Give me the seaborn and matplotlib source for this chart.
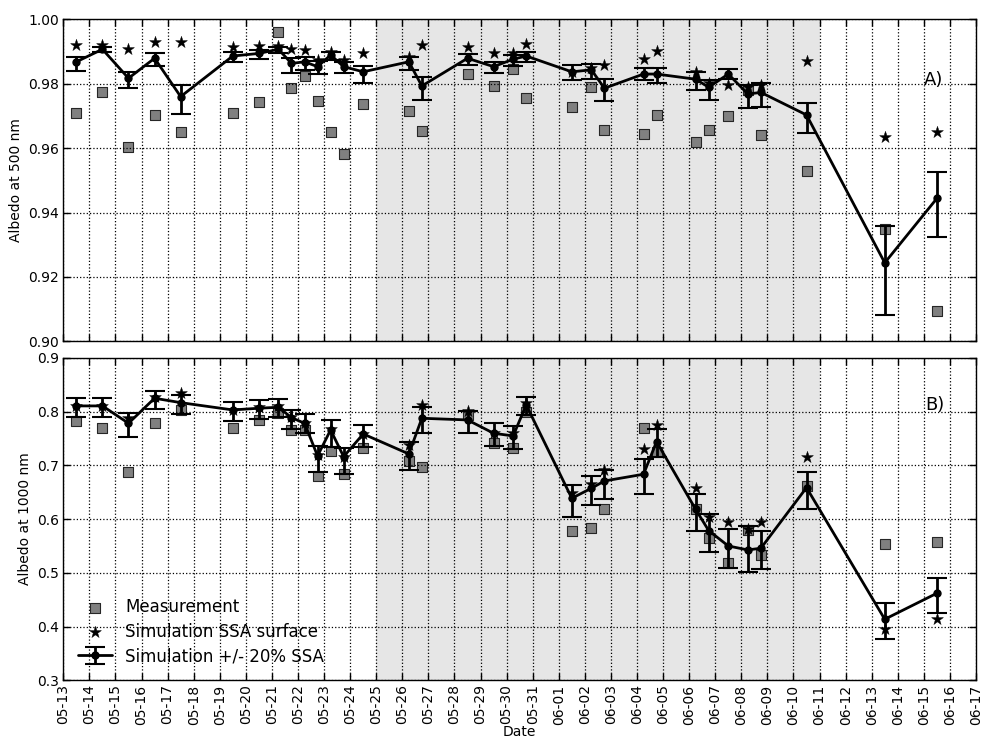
import pandas as pd
import numpy as np
import seaborn as sns
import matplotlib
matplotlib.use('Agg')
import matplotlib.pyplot as plt
import matplotlib.dates as mdates


# observation times (month-day hour)
times = ['05-13 12:00', '05-14 12:00', '05-15 12:00', '05-16 12:00', '05-17 12:00',
         '05-19 12:00', '05-20 12:00', '05-21 06:00', '05-21 18:00', '05-22 06:00',
         '05-22 18:00', '05-23 06:00', '05-23 18:00', '05-24 12:00', '05-26 06:00',
         '05-26 18:00', '05-28 12:00', '05-29 12:00', '05-30 06:00', '05-30 18:00',
         '06-01 12:00', '06-02 06:00', '06-02 18:00', '06-04 06:00', '06-04 18:00',
         '06-06 06:00', '06-06 18:00', '06-07 12:00', '06-08 06:00', '06-08 18:00',
         '06-10 12:00', '06-13 12:00', '06-15 12:00']

# 500 nm
meas500 = [0.9710, 0.9773, 0.9602, 0.9703, 0.9649, 0.9710, 0.9742, 0.9961, 0.9788, 0.9825,
           0.9746, 0.9649, 0.9582, 0.9737, 0.9716, 0.9654, 0.9830, 0.9794, 0.9846, 0.9755,
           0.9727, 0.9789, 0.9656, 0.9643, 0.9703, 0.9618, 0.9656, 0.9701, 0.9780, 0.9641,
           0.9530, 0.9349, 0.9095]
ssa500 = [0.9920, 0.9920, 0.9907, 0.9929, 0.9930, 0.9915, 0.9918, 0.9918, 0.9908, 0.9905,
          0.9874, 0.9898, 0.9874, 0.9896, 0.9884, 0.9920, 0.9915, 0.9894, 0.9894, 0.9922,
          0.9837, 0.9848, 0.9858, 0.9877, 0.9902, 0.9837, 0.9801, 0.9796, 0.9789, 0.9796,
          0.9871, 0.9634, 0.9651]
sim500 = [0.9868, 0.9907, 0.9817, 0.9879, 0.9760, 0.9886, 0.9894, 0.9907, 0.9863, 0.9868,
          0.9853, 0.9889, 0.9853, 0.9837, 0.9868, 0.9793, 0.9879, 0.9853, 0.9876, 0.9886,
          0.9837, 0.9843, 0.9786, 0.9830, 0.9830, 0.9814, 0.9789, 0.9830, 0.9768, 0.9773,
          0.9703, 0.9244, 0.9444]
lo500 = [0.9841, 0.9900, 0.9786, 0.9856, 0.9706, 0.9868, 0.9876, 0.9894, 0.9832, 0.9843,
         0.9830, 0.9874, 0.9832, 0.9803, 0.9843, 0.9749, 0.9858, 0.9832, 0.9855, 0.9866,
         0.9812, 0.9815, 0.9747, 0.9812, 0.9801, 0.9781, 0.9749, 0.9814, 0.9724, 0.9729,
         0.9646, 0.9082, 0.9325]
hi500 = [0.9884, 0.9915, 0.9837, 0.9894, 0.9796, 0.9900, 0.9905, 0.9915, 0.9879, 0.9884,
         0.9871, 0.9900, 0.9868, 0.9856, 0.9884, 0.9822, 0.9892, 0.9866, 0.9889, 0.9900,
         0.9858, 0.9860, 0.9815, 0.9848, 0.9848, 0.9837, 0.9812, 0.9846, 0.9796, 0.9801,
         0.9741, 0.9358, 0.9525]

# 1000 nm
meas1000 = [0.7827, 0.7703, 0.6884, 0.7796, 0.8032, 0.7703, 0.7846, 0.7982, 0.7660, 0.7660,
            0.6803, 0.7274, 0.6841, 0.7319, 0.7088, 0.6965, 0.7939, 0.7424, 0.7319, 0.8001,
            0.5785, 0.5830, 0.6189, 0.7691, 0.7256, 0.6184, 0.5644, 0.5190, 0.5798, 0.5333,
            0.6617, 0.5538, 0.5580]
ssa1000 = [0.8107, 0.8107, 0.7877, 0.8268, 0.8354, 0.8032, 0.8082, 0.8107, 0.7896, 0.7796,
           0.7194, 0.7672, 0.7151, 0.7585, 0.7380, 0.8125, 0.8019, 0.7598, 0.7598, 0.8157,
           0.6481, 0.6654, 0.6915, 0.7306, 0.7753, 0.6574, 0.6046, 0.5941, 0.5817, 0.5941,
           0.7163, 0.3950, 0.4136]
sim1000 = [0.8107, 0.8107, 0.7784, 0.8250, 0.8168, 0.8032, 0.8064, 0.8082, 0.7889, 0.7784,
           0.7176, 0.7660, 0.7163, 0.7585, 0.7213, 0.7877, 0.7846, 0.7598, 0.7548, 0.8125,
           0.6388, 0.6574, 0.6710, 0.6835, 0.7442, 0.6180, 0.5785, 0.5500, 0.5426, 0.5458,
           0.6586, 0.4136, 0.4620]
lo1000 = [0.7907, 0.7895, 0.7524, 0.8051, 0.7952, 0.7827, 0.7859, 0.7907, 0.7672, 0.7598,
          0.6872, 0.7349, 0.6841, 0.7338, 0.6915, 0.7609, 0.7598, 0.7362, 0.7300, 0.7939,
          0.6046, 0.6264, 0.6370, 0.6468, 0.7163, 0.5775, 0.5394, 0.5097, 0.5011, 0.5067,
          0.6184, 0.3764, 0.4259]
hi1000 = [0.8261, 0.8261, 0.7971, 0.8392, 0.8311, 0.8187, 0.8218, 0.8237, 0.8032, 0.7958,
          0.7362, 0.7846, 0.7319, 0.7753, 0.7442, 0.8082, 0.8019, 0.7796, 0.7734, 0.8280,
          0.6636, 0.6809, 0.6915, 0.7114, 0.7678, 0.6463, 0.6090, 0.5811, 0.5873, 0.5780,
          0.6872, 0.4434, 0.4899]

shade_start, shade_end = '05-25', '06-11'
xmin, xmax = '05-13', '06-17'
YEAR = '2016-'

sns.set_theme(style='white', rc={
    'xtick.direction': 'in', 'ytick.direction': 'in',
    'xtick.top': True, 'ytick.right': True,
    'xtick.bottom': True, 'ytick.left': True,
    'xtick.major.size': 5, 'ytick.major.size': 5,
    'xtick.major.width': 1, 'ytick.major.width': 1,
    'xtick.color': 'black', 'ytick.color': 'black',
    'text.color': 'black', 'axes.labelcolor': 'black',
    'axes.edgecolor': 'black', 'axes.linewidth': 1.0,
    'grid.color': 'black', 'grid.linestyle': ':', 'grid.linewidth': 0.9,
})
plt.rcParams['font.family'] = ['DejaVu Sans']

df = pd.DataFrame({
    'time': pd.to_datetime([YEAR + t for t in times]),
    'meas500': meas500, 'ssa500': ssa500, 'sim500': sim500,
    'lo500': lo500, 'hi500': hi500,
    'meas1000': meas1000, 'ssa1000': ssa1000, 'sim1000': sim1000,
    'lo1000': lo1000, 'hi1000': hi1000,
})

fig = plt.figure(figsize=(9.83, 7.42), dpi=100)
ax1 = fig.add_axes([0.0644, 0.5399, 0.9285, 0.4341])
ax2 = fig.add_axes([0.0644, 0.0832, 0.9285, 0.4344], sharex=ax1)


def draw_panel(ax, wl):
    ax.axvspan(pd.Timestamp(YEAR + shade_start), pd.Timestamp(YEAR + shade_end),
               color='0.9', zorder=0, lw=0)
    sns.scatterplot(data=df, x='time', y=f'meas{wl}', ax=ax, marker='s', s=42,
                    color='0.5', edgecolor='0.15', linewidth=0.8, zorder=2,
                    label='Measurement')
    yerr = [df[f'sim{wl}'] - df[f'lo{wl}'], df[f'hi{wl}'] - df[f'sim{wl}']]
    eb = ax.errorbar(df['time'], df[f'sim{wl}'], yerr=yerr, color='black', lw=2,
                     marker='o', ms=5, capsize=7, capthick=1.5, elinewidth=2,
                     zorder=3, label='Simulation +/- 20% SSA')
    sns.scatterplot(data=df, x='time', y=f'ssa{wl}', ax=ax, marker='*', s=80,
                    color='black', edgecolor='black', linewidth=0.3, zorder=4,
                    label='Simulation SSA surface')
    ax.grid(True)
    ax.set_axisbelow(False)
    for gl in ax.get_xgridlines() + ax.get_ygridlines():
        gl.set_zorder(1)
    ax.tick_params(labelsize=10, pad=3)
    return eb


draw_panel(ax1, 500)
draw_panel(ax2, 1000)

ax1.set_ylim(0.90, 1.00)
ax1.set_yticks(np.arange(0.90, 1.001, 0.02))
ax1.yaxis.set_major_formatter(matplotlib.ticker.FormatStrFormatter('%.2f'))
ax2.set_ylim(0.3, 0.9)
ax2.set_yticks(np.arange(0.3, 0.91, 0.1))
ax2.yaxis.set_major_formatter(matplotlib.ticker.FormatStrFormatter('%.1f'))

ax2.set_xlim(pd.Timestamp(YEAR + xmin), pd.Timestamp(YEAR + xmax))
ax2.xaxis.set_major_locator(mdates.DayLocator())
ax2.xaxis.set_major_formatter(mdates.DateFormatter('%m-%d'))
plt.setp(ax2.get_xticklabels(), rotation=90)
plt.setp(ax1.get_xticklabels(), visible=False)

ax1.set_xlabel('')
ax1.set_ylabel('Albedo at 500 nm', fontsize=10)
ax2.set_ylabel('Albedo at 1000 nm', fontsize=10)
ax2.set_xlabel('Date', fontsize=10, labelpad=0)

ax1.text(0.953, 0.813, 'A)', transform=ax1.transAxes, fontsize=13,
         ha='center', va='center')
ax2.text(0.955, 0.853, 'B)', transform=ax2.transAxes, fontsize=13,
         ha='center', va='center')

ax1.get_legend().remove()
h, l = ax2.get_legend_handles_labels()
order = [l.index('Measurement'), l.index('Simulation SSA surface'),
         l.index('Simulation +/- 20% SSA')]
ax2.legend([h[i] for i in order], [l[i] for i in order], loc='lower left',
           frameon=False, fontsize=12, numpoints=1, scatterpoints=1,
           handlelength=2, labelspacing=0.4)

fig.savefig('out.png', dpi=100)
